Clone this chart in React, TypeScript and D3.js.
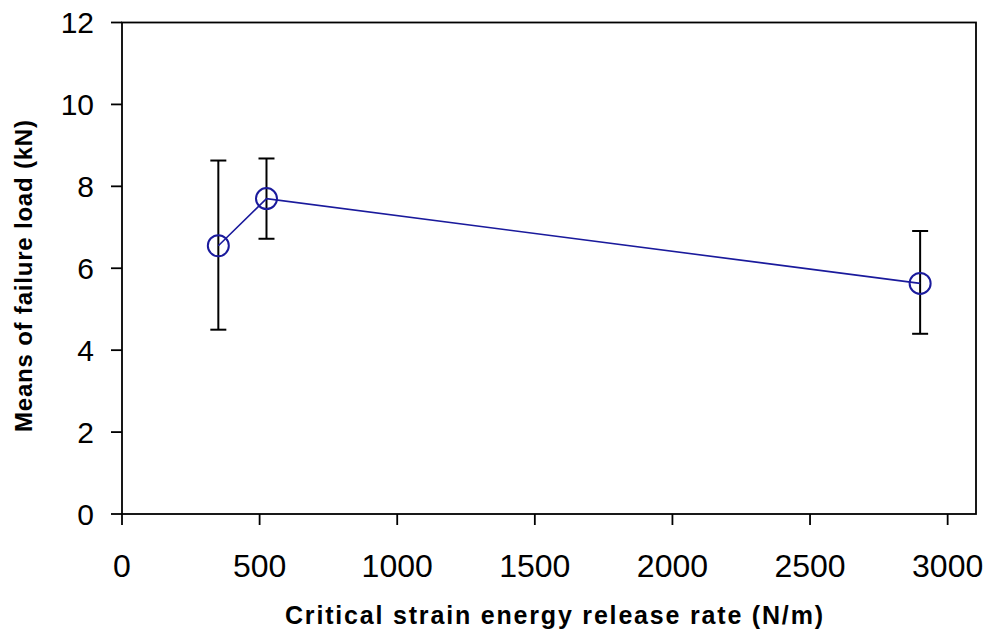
import React from "react";
import * as d3 from "d3";

const xValues = [350, 525, 2900];
const yMeans = [6.55, 7.7, 5.63];
const yUpper = [8.63, 8.68, 6.91];
const yLower = [4.5, 6.72, 4.4];
const xTicks = [0, 500, 1000, 1500, 2000, 2500, 3000];
const yTicks = [0, 2, 4, 6, 8, 10, 12];

const W = 990, H = 634;
const L = 122, R = 976, T = 22.5, B = 514;

export default function App() {
  const x = d3.scaleLinear().domain([0, 3103]).range([L, R]);
  const y = d3.scaleLinear().domain([0, 12]).range([B, T]);
  const line = d3.line<number>().x((_, i) => x(xValues[i])).y((d) => y(d));
  const font = "Liberation Sans, Arial, sans-serif";
  return (
    <svg width={W} height={H} style={{ position: "absolute", left: 0, top: 0 }} fontFamily={font}>
      <rect x={0} y={0} width={W} height={H} fill="#fff" />
      <rect x={L} y={T} width={R - L} height={B - T} fill="none" stroke="#000" strokeWidth={1.8} />
      {yTicks.map((t) => (
        <g key={"y" + t}>
          <line x1={L - 11} x2={L} y1={y(t)} y2={y(t)} stroke="#000" strokeWidth={1.8} />
          <text x={94} y={y(t) + 10.5} textAnchor="end" fontSize={30} fill="#000">{t}</text>
        </g>
      ))}
      {xTicks.map((t) => (
        <g key={"x" + t}>
          <line x1={x(t)} x2={x(t)} y1={B} y2={B + 11} stroke="#000" strokeWidth={1.8} />
          <text x={x(t)} y={577} textAnchor="middle" fontSize={32} fill="#000">{t}</text>
        </g>
      ))}
      {xValues.map((v, i) => (
        <g key={"e" + i} stroke="#000" strokeWidth={2}>
          <line x1={x(v)} x2={x(v)} y1={y(yUpper[i])} y2={y(yLower[i])} />
          <line x1={x(v) - 8} x2={x(v) + 8} y1={y(yUpper[i])} y2={y(yUpper[i])} />
          <line x1={x(v) - 8} x2={x(v) + 8} y1={y(yLower[i])} y2={y(yLower[i])} />
        </g>
      ))}
      <path d={line(yMeans) || ""} fill="none" stroke="#1a1a9c" strokeWidth={1.6} />
      {xValues.map((v, i) => (
        <circle key={"c" + i} cx={x(v)} cy={y(yMeans[i])} r={10.5} fill="none" stroke="#1a1a9c" strokeWidth={2} />
      ))}
      <text x={285} y={624} fontSize={25} fontWeight="bold" fill="#000" textLength={538} lengthAdjust="spacing">
        Critical strain energy release rate (N/m)
      </text>
      <text transform={`translate(32, 432) rotate(-90)`} textAnchor="start" fontSize={24} fontWeight="bold" fill="#000" textLength={312} lengthAdjust="spacing">
        Means of failure load (kN)
      </text>
    </svg>
  );
}
